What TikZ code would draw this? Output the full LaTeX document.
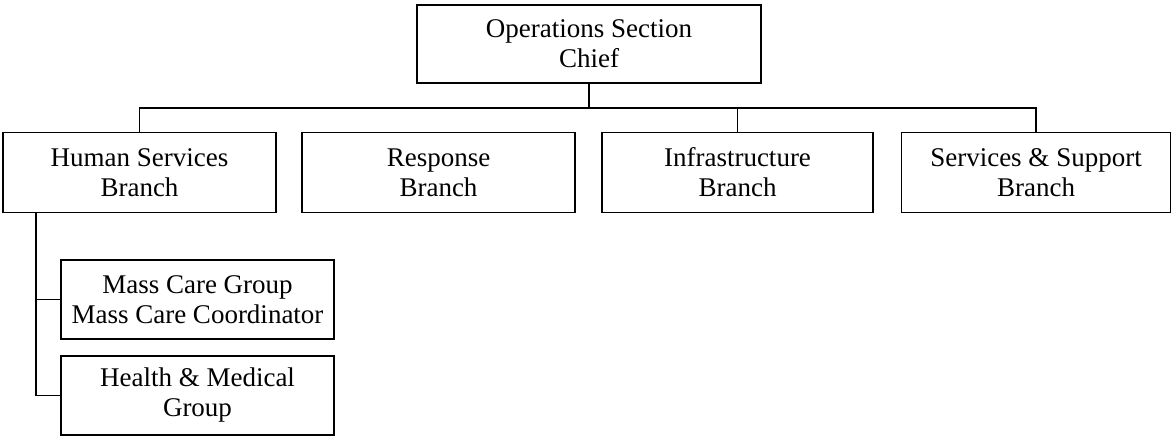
\documentclass[tikz,border=0pt]{standalone}
\usepackage{fontspec}
\setmainfont{Liberation Serif}
\begin{document}
\begin{tikzpicture}[x=1pt,y=-1pt,
  box/.style={draw, line width=1.4pt, align=center, inner sep=0pt,
    font=\fontsize{27}{30}\selectfont},
  link/.style={line width=1.4pt}]
\useasboundingbox (0,0) rectangle (1172,439);
% top of the section
\node[box, minimum width=344pt, minimum height=78pt] (chief) at (589,44) {Operations Section\\Chief};
% branches
\node[box, minimum width=273pt, minimum height=80pt] (hs) at (139.5,172.5) {Human Services\\Branch};
\node[box, minimum width=273pt, minimum height=80pt] (resp) at (438.5,172.5) {Response\\Branch};
\node[box, minimum width=271pt, minimum height=80pt] (infra) at (737.5,172.5) {Infrastructure\\Branch};
\node[box, minimum width=269pt, minimum height=80pt] (ss) at (1036,172.5) {Services \& Support\\Branch};
% groups under the human services branch
\node[box, minimum width=273pt, minimum height=79pt] (mc) at (197.5,299.5) {Mass Care Group\\Mass Care Coordinator};
\node[box, minimum width=273pt, minimum height=79pt] (hm) at (197.5,395.5) {Health \& Medical\\Group};
% connectors
\coordinate (bus) at (589,108);
\draw[link] (chief.south) -- (bus);
\draw[link] (hs.north) |- (bus) -| (ss.north);
\draw[link] (bus -| infra.north) -- (infra.north);
\coordinate (tk) at (36,0);
\draw[link] (tk |- hs.south) |- (hm.west);
\draw[link] (tk |- mc.west) -- (mc.west);
\end{tikzpicture}
\end{document}
